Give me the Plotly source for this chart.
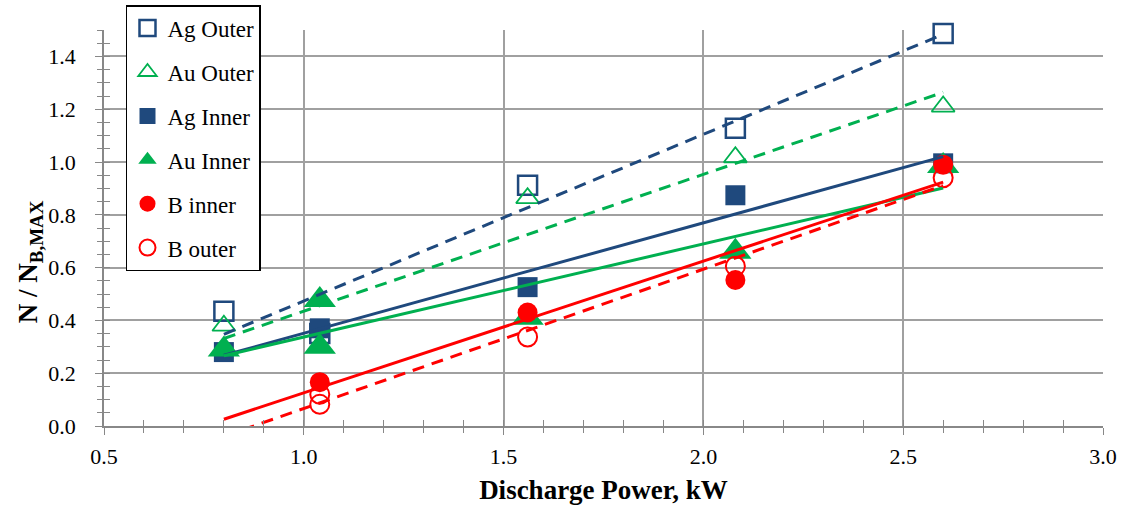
import numpy as np
import plotly.graph_objects as go

# Normalised density vs. discharge power for each probe position
power_ag_outer = [0.80, 1.04, 1.56, 2.08, 2.60]
ag_outer = [0.435, 0.35, 0.912, 1.128, 1.487]

power_au_outer = [0.80, 1.04, 1.56, 2.08, 2.60]
au_outer = [0.38, 0.30, 0.863, 1.018, 1.21]

power_ag_inner = [0.80, 1.04, 1.56, 2.08, 2.60]
ag_inner = [0.28, 0.37, 0.526, 0.874, 0.995]

power_au_inner = [0.80, 1.04, 1.04, 1.56, 2.08, 2.60]
au_inner = [0.29, 0.477, 0.30, 0.41, 0.66, 0.985]

power_b_inner = [1.04, 1.56, 2.08, 2.60]
b_inner = [0.166, 0.43, 0.553, 0.99]

power_b_outer = [1.04, 1.04, 1.56, 2.08, 2.60]
b_outer = [0.12, 0.082, 0.337, 0.605, 0.94]

# x-span over which the linear trendlines are drawn
fit_span = [0.8, 2.6]

NAVY = "#1F497D"
GREEN = "#00B050"
RED = "#FF0000"
FONT = '"Liberation Serif", "Times New Roman", serif'

series = [
    ("Ag Outer", power_ag_outer, ag_outer, NAVY, "square-open", 19, 2.5, "12px,8px"),
    ("Au Outer", power_au_outer, au_outer, GREEN, "triangle-up-open", 20, 1.8, "12px,8px"),
    ("Ag Inner", power_ag_inner, ag_inner, NAVY, "square", 20, 0, "solid"),
    ("Au Inner", power_au_inner, au_inner, GREEN, "triangle-up", 28, 0, "solid"),
    ("B inner", power_b_inner, b_inner, RED, "circle", 20, 0, "solid"),
    ("B outer", power_b_outer, b_outer, RED, "circle-open", 19, 2, "12px,8px"),
]

fig = go.Figure()

for i, (name, xs, ys, color, symbol, size, lw, _) in enumerate(series):
    fig.add_trace(go.Scatter(
        x=xs, y=ys, mode="markers", name=name,
        legendgroup=f"g{i}",
        marker=dict(symbol=symbol, size=size, color=color,
                    line=dict(color=color, width=lw)),
        cliponaxis=False,
    ))

# Least-squares linear trendlines
for i, (name, xs, ys, color, symbol, size, lw, dash) in enumerate(series):
    slope, intercept = np.polyfit(xs, ys, 1)
    fx = np.array(fit_span)
    fig.add_trace(go.Scatter(
        x=fx, y=slope * fx + intercept, mode="lines",
        line=dict(color=color, width=3, dash=dash),
        showlegend=False, hoverinfo="skip",
    ))

axis_font = dict(family=FONT, size=22, color="black")
GRID = "#A0A0A0"
AXL = "#888888"

fig.update_layout(
    width=1129, height=516,
    margin=dict(l=104, r=26, t=30, b=90, autoexpand=False),
    paper_bgcolor="white", plot_bgcolor="white",
    font=dict(family=FONT, color="black"),
    showlegend=True,
    legend=dict(
        xref="container", yref="container",
        x=0.1116, y=0.990, xanchor="left", yanchor="top",
        bgcolor="white", bordercolor="black", borderwidth=1.5,
        font=dict(family=FONT, size=23, color="black"),
        tracegroupgap=11, itemwidth=30, maxheight=480,
    ),
    xaxis=dict(
        range=[0.5, 3.0], tick0=0.5, dtick=0.5, tickformat=".1f",
        showgrid=True, gridcolor=GRID, gridwidth=1.5,
        showline=True, linecolor=AXL, linewidth=1.5,
        ticks="outside", ticklen=7, tickcolor=AXL, tickwidth=1.2,
        minor=dict(dtick=0.1, ticks="outside", ticklen=5, tickcolor=AXL, tickwidth=1.2, showgrid=False),
        tickfont=axis_font, zeroline=False, ticklabelstandoff=3,
        title=dict(text="<b>Discharge Power, kW</b>", font=dict(family=FONT, size=27, color="black"), standoff=12),
    ),
    yaxis=dict(
        range=[0, 1.5], tick0=0, dtick=0.2, tickformat=".1f",
        showgrid=True, gridcolor=GRID, gridwidth=1.5,
        showline=True, linecolor=AXL, linewidth=1.5,
        ticks="outside", ticklen=7, tickcolor=AXL, tickwidth=1.2,
        minor=dict(dtick=0.05, ticks="outside", ticklen=5, tickcolor=AXL, tickwidth=1.2, showgrid=False),
        tickfont=axis_font, zeroline=False, ticklabelstandoff=15,
    ),
    # companion axes carrying the inner half of the crossing tick marks
    xaxis2=dict(
        overlaying="x", anchor="y", side="bottom", matches="x",
        range=[0.5, 3.0], tick0=0.5, dtick=0.5, showticklabels=False,
        showgrid=False, zeroline=False, showline=False,
        ticks="inside", ticklen=6, tickcolor=AXL, tickwidth=1.2,
        minor=dict(dtick=0.1, ticks="inside", ticklen=6, tickcolor=AXL, tickwidth=1.2),
    ),
    yaxis2=dict(
        overlaying="y", anchor="x", side="left", matches="y",
        range=[0, 1.5], tick0=0, dtick=0.2, showticklabels=False,
        showgrid=False, zeroline=False, showline=False,
        ticks="inside", ticklen=6, tickcolor=AXL, tickwidth=1.2,
        minor=dict(dtick=0.05, ticks="inside", ticklen=6, tickcolor=AXL, tickwidth=1.2),
    ),
    annotations=[dict(
        text="<b>N / N<sub>B,MAX</sub></b>", textangle=-90,
        xref="paper", yref="paper", x=-0.074, y=0.414,
        xanchor="center", yanchor="middle", showarrow=False,
        font=dict(family=FONT, size=27, color="black"),
    )],
)

fig.add_trace(go.Scatter(x=[], y=[], xaxis="x2", yaxis="y2", showlegend=False, hoverinfo="skip"))

fig.write_html("out.html")
